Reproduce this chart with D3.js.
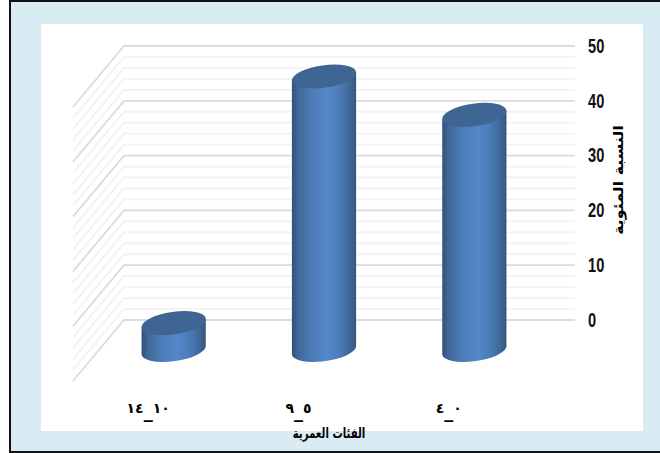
<!DOCTYPE html>
<html><head><meta charset="utf-8">
<script src="https://cdn.jsdelivr.net/npm/d3@7"></script>
<style>html,body{margin:0;padding:0;background:#fff}svg{display:block}</style>
</head><body><svg id="c" width="660" height="453"></svg>
<script>
const categoryStart = ["١٠", "٥", "٠"];
const categoryEnd = ["١٤", "٩", "٤"];
const categories = ["١٠_١٤", "٥_٩", "٠_٤"];
const values = [5, 50, 43];
const yTicks = [0, 10, 20, 30, 40, 50];
const minorTicks = d3.range(0, 51, 2);
const xTitle = "الفئات العمرية";
const yTitle = "النسبة المئوية";

const svg = d3.select("#c");
const arabic = "'DejaVu Sans','Noto Sans',serif";
const latin = "'Liberation Sans',sans-serif";

// frame
svg.append("rect").attr("x", 10).attr("y", 1).attr("width", 655).attr("height", 451)
  .attr("fill", "#daecf3").attr("stroke", "#111").attr("stroke-width", 2);
svg.append("rect").attr("x", 41).attr("y", 24).attr("width", 602).attr("height", 407).attr("fill", "#fff");

const wallLeft = 124, wallRight = 575, depthX = 51, depthY = 61;
const y = d3.scaleLinear().domain([0, 50]).range([320, 46]);
const x = d3.scaleBand().domain(categories).range([wallLeft - depthX / 2, wallRight - depthX / 2])
  .paddingInner(0.573).paddingOuter(0.2865);

// grid
const grid = svg.append("g").attr("fill", "none");
minorTicks.forEach(t => {
  const major = t % 10 === 0;
  grid.append("path")
    .attr("d", d3.line()([[wallLeft - depthX, y(t) + depthY], [wallLeft, y(t)], [wallRight, y(t)]]))
    .attr("stroke", major ? "#dcdcdc" : "#f2f2f2")
    .attr("stroke-width", 1.8);
});

// defs
const defs = svg.append("defs");
const g = defs.append("linearGradient").attr("id", "body");
[[0, "#2f5179"], [0.1, "#41689a"], [0.3, "#4b7bb6"], [0.55, "#5488ca"], [0.75, "#4b7bb7"], [0.92, "#3d6594"], [1, "#34567f"]]
  .forEach(s => g.append("stop").attr("offset", s[0]).attr("stop-color", s[1]));

// bars
const baseY = y(0) + depthY / 2;
const tilt = 8.1 * Math.PI / 180;
const rx = () => x.bandwidth() / 2;
const a = () => rx() * 1.01, b = () => rx() * 0.35;
const bars = svg.append("g").selectAll("g").data(categories.map((c, i) => ({ c, v: values[i] }))).join("g");
bars.each(function (d) {
  const cx = x(d.c) + x.bandwidth() / 2;
  const top = baseY - (y(0) - y(d.v));
  const off = (a() * a() - b() * b()) * Math.sin(tilt) * Math.cos(tilt) / rx();
  const deg = -tilt * 180 / Math.PI;
  const sel = d3.select(this);
  sel.append("path")
    .attr("d", `M${cx - rx()},${top + off}L${cx - rx()},${baseY + off}A${a()},${b()} ${deg} 0 0 ${cx + rx()},${baseY - off}L${cx + rx()},${top - off}Z`)
    .attr("fill", "url(#body)");
  sel.append("ellipse").attr("rx", a()).attr("ry", b())
    .attr("transform", `translate(${cx},${top}) rotate(${deg})`)
    .attr("fill", "#3f6592");
});

// value axis
const axis = svg.append("g").attr("transform", `translate(${wallRight},0)`)
  .call(d3.axisRight(y).tickValues(yTicks).tickSize(0).tickPadding(13));
axis.select(".domain").remove();
axis.selectAll("text").attr("font-family", latin).attr("font-weight", "bold")
  .attr("font-size", 17).attr("fill", "#111")
  .attr("x", 0).attr("dy", "0.3em")
  .attr("transform", "translate(13,0) scale(0.86,1.22)");

// category labels: digits with a low underscore between them
const catLabels = svg.append("g").selectAll("text").data(categories).join("text")
  .attr("x", d => x(d) + x.bandwidth() / 2 - depthX / 2)
  .attr("y", 413).attr("text-anchor", "middle").attr("direction", "rtl")
  .attr("font-family", arabic).attr("font-weight", "bold").attr("font-size", 14).attr("fill", "#000");
catLabels.each(function (d, i) {
  const t = d3.select(this);
  t.append("tspan").text(categoryStart[i]);
  t.append("tspan").attr("dy", 5).attr("font-size", 18).text("_");
  t.append("tspan").attr("dy", -5).text(categoryEnd[i]);
});

// titles
svg.append("text").attr("transform", "translate(329,438) scale(0.85,1.2)").attr("text-anchor", "middle").attr("direction", "rtl")
  .attr("font-family", arabic).attr("font-weight", "bold").attr("font-size", 12).attr("fill", "#000").text(xTitle);
svg.append("text").attr("transform", "translate(623,180) rotate(-90) scale(1.27,1.1)").attr("text-anchor", "middle").attr("direction", "rtl")
  .attr("font-family", arabic).attr("font-weight", "bold").attr("font-size", 12.5).attr("fill", "#000").text(yTitle);
</script></body></html>
